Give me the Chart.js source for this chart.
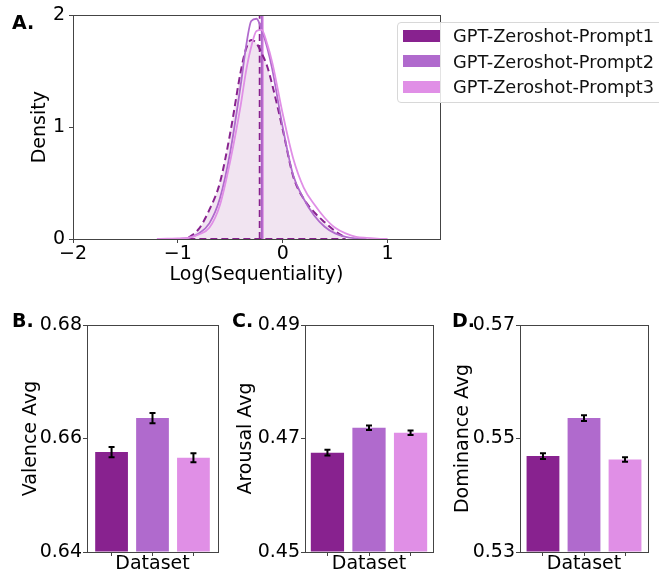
<!DOCTYPE html>
<html>
<head>
<meta charset="utf-8">
<script src="https://cdn.jsdelivr.net/npm/chart.js@4.4.0/dist/chart.umd.min.js"></script>
<style>
  body { margin: 0; background: #fff; width: 659px; height: 573px; overflow: hidden; position: relative;
         font-family: "DejaVu Sans", sans-serif; }
  canvas { position: absolute; }
  .tag { position: absolute; font-weight: bold; font-size: 19px; line-height: 19px; color: #000; }
  #legend { position: absolute; left: 397px; top: 22px; width: 300px; padding-bottom: 2.5px;
            border: 1px solid #d8d8d8; border-radius: 4px; background: rgba(255,255,255,0.85); }
  #legend .item { display: flex; align-items: center; height: 25.5px; font-size: 17.8px; color: #111; white-space: nowrap; }
  #legend .sw { display: inline-block; width: 37px; height: 12px; margin-left: 5px; margin-right: 13px; }
</style>
</head>
<body>
<canvas id="kde"   width="460" height="295" style="left:0;top:0"></canvas>
<canvas id="val"   width="220" height="290" style="left:0;top:295px"></canvas>
<canvas id="aro"   width="220" height="290" style="left:220px;top:295px"></canvas>
<canvas id="dom"   width="219" height="290" style="left:440px;top:295px"></canvas>
<div class="tag" style="left:12px;top:13px">A.</div>
<div class="tag" style="left:12px;top:311px">B.</div>
<div class="tag" style="left:232px;top:311px">C.</div>
<div class="tag" style="left:452px;top:311px">D.</div>
<div id="legend"></div>

<script>
// ── DATA ──
const names  = ['GPT-Zeroshot-Prompt1', 'GPT-Zeroshot-Prompt2', 'GPT-Zeroshot-Prompt3'];
const colors = ['#88228f', '#b06acd', '#e08fe6'];

// panel A: density of log(sequentiality)
const kdeX   = [-1.2, -1.1, -1.0, -0.9, -0.8, -0.7, -0.6, -0.5, -0.4, -0.35, -0.3, -0.25, -0.2, -0.15, -0.1, 0.0, 0.1, 0.2, 0.3, 0.4, 0.5, 0.6, 0.7, 0.8, 0.9, 1.0];
const densP1 = [null, null, null, 0.01, 0.09, 0.26, 0.5, 0.95, 1.5, 1.7, 1.78, 1.75, 1.66, 1.55, 1.38, 0.98, 0.56, 0.36, 0.24, 0.15, 0.07, 0.01, null, null, null, null];
const densP2 = [null, null, 0, 0.01, 0.05, 0.14, 0.36, 0.78, 1.38, 1.72, 1.95, 1.97, 1.87, 1.72, 1.52, 1.0, 0.57, 0.36, 0.21, 0.11, 0.05, 0.02, 0.005, 0, null, null];
const densP3 = [0, 0.003, 0.005, 0.01, 0.04, 0.1, 0.3, 0.7, 1.2, 1.5, 1.72, 1.86, 1.87, 1.75, 1.58, 1.12, 0.72, 0.46, 0.31, 0.19, 0.1, 0.05, 0.02, 0.01, 0.004, 0];
const means  = [-0.22, -0.2, -0.19];
const kdeXTicks = [-2, -1, 0, 1];
const kdeYTicks = [0, 1, 2];

// panels B-D: averages with error bars
const valence      = [0.6576, 0.6636, 0.6566];
const valenceErr   = [0.0009, 0.0009, 0.0008];
const valenceTicks = [0.64, 0.66, 0.68];
const arousal      = [0.4675, 0.4719, 0.4710];
const arousalErr   = [0.0005, 0.0004, 0.0004];
const arousalTicks = [0.45, 0.47, 0.49];
const dominance    = [0.5469, 0.5536, 0.5463];
const dominanceErr = [0.0005, 0.0005, 0.0004];
const dominanceTicks = [0.53, 0.55, 0.57];

Chart.defaults.font.family = 'DejaVu Sans';
Chart.defaults.font.size = 19;
Chart.defaults.color = '#000';

const AXIS = '#444';

// box around the plot area (matplotlib spines)
const framePlugin = {
  id: 'frame',
  afterDatasetsDraw(chart) {
    const { ctx, chartArea: a } = chart;
    ctx.save();
    ctx.strokeStyle = AXIS;
    ctx.lineWidth = 1;
    ctx.strokeRect(Math.round(a.left) + 0.5, Math.round(a.top) + 0.5,
                   Math.round(a.right - a.left), Math.round(a.bottom - a.top));
    ctx.restore();
  }
};

// black error bars with caps
const errPlugin = {
  id: 'errbars',
  afterDatasetsDraw(chart, args, opts) {
    const { ctx, scales: { y } } = chart;
    const meta = chart.getDatasetMeta(0);
    const vals = chart.data.datasets[0].data;
    ctx.save();
    ctx.strokeStyle = '#000';
    ctx.lineWidth = 2;
    meta.data.forEach((bar, i) => {
      const v = vals[i].y, e = opts.err[i];
      const top = y.getPixelForValue(v + e), bot = y.getPixelForValue(v - e);
      ctx.beginPath();
      ctx.moveTo(bar.x, top); ctx.lineTo(bar.x, bot);
      ctx.moveTo(bar.x - 3, top); ctx.lineTo(bar.x + 3, top);
      ctx.moveTo(bar.x - 3, bot); ctx.lineTo(bar.x + 3, bot);
      ctx.stroke();
    });
    ctx.restore();
  }
};

const minus = v => (v < 0 ? '\u2212' + Math.abs(v) : String(v));
const pts = ys => kdeX.map((x, i) => ({ x, y: ys[i] })).filter(p => p.y !== null);
const fixTicks = list => scale => { scale.ticks = list.map(value => ({ value })); };

// ── PANEL A ──
(function () {
  const p1 = pts(densP1);
  const yTop = kdeYTicks[kdeYTicks.length - 1];
  const line = (data, color, dashed, width) => ({
    data, borderColor: color, borderWidth: width, borderDash: dashed ? [7, 4] : [],
    pointRadius: 0, fill: false, cubicInterpolationMode: 'monotone'
  });

  const datasets = [
    line(pts(densP3), colors[2], false, 1.8),
    line(pts(densP2), colors[1], false, 1.8),
    Object.assign(line(p1, colors[0], true, 2), { fill: 'origin', backgroundColor: 'rgba(136,34,143,0.12)' }),
    line([{ x: p1[0].x, y: 0 }, { x: p1[p1.length - 1].x, y: 0 }], colors[0], true, 2),
  ];
  means.forEach((m, i) => datasets.push(line([{ x: m, y: 0 }, { x: m, y: yTop }], colors[i], i === 0, 1.8)));

  new Chart(document.getElementById('kde'), {
    type: 'line',
    data: { datasets },
    options: {
      responsive: false, animation: false, devicePixelRatio: 1,
      layout: { padding: { top: 15, right: 20, left: 0, bottom: 0 } },
      plugins: { legend: { display: false }, tooltip: { enabled: false } },
      scales: {
        x: {
          type: 'linear', min: -2, max: 1.5,
          afterBuildTicks: fixTicks(kdeXTicks),
          afterFit: s => { s.height = 56; },
          border: { display: false },
          grid: { drawOnChartArea: false, color: AXIS, tickLength: 4 },
          ticks: { callback: minus, padding: 0, maxRotation: 0 },
          title: { display: true, text: 'Log(Sequentiality)', padding: { top: 0, bottom: 8.3 } }
        },
        y: {
          min: 0, max: 2,
          afterBuildTicks: fixTicks(kdeYTicks),
          afterFit: s => { s.width = 73; },
          border: { display: false },
          grid: { drawOnChartArea: false, color: AXIS, tickLength: 4 },
          ticks: { padding: 4 },
          title: { display: true, text: 'Density', padding: { top: 28.9, bottom: 0 } }
        }
      }
    },
    plugins: [framePlugin]
  });
})();

// ── PANELS B-D ──
function barPanel(id, values, errs, ticks, label, box) {
  new Chart(document.getElementById(id), {
    type: 'bar',
    data: {
      datasets: [{
        data: values.map((y, x) => ({ x, y })),
        backgroundColor: colors,
        base: ticks[0],
        barPercentage: 0.8, categoryPercentage: 1
      }]
    },
    options: {
      responsive: false, animation: false, devicePixelRatio: 1,
      layout: { padding: { top: 30, right: box.right, left: 0, bottom: 0 } },
      plugins: { legend: { display: false }, tooltip: { enabled: false }, errbars: { err: errs } },
      scales: {
        x: {
          type: 'linear', offset: false, min: box.xmin, max: box.xmax,
          afterBuildTicks: fixTicks(values.map((v, i) => i)),
          afterFit: s => { s.height = 33; },
          border: { display: false },
          grid: { offset: false, drawOnChartArea: false, color: AXIS, tickLength: 4 },
          ticks: { callback: () => '' },
          title: { display: true, text: 'Dataset', padding: { top: 0, bottom: 9.3 } }
        },
        y: {
          min: ticks[0], max: ticks[ticks.length - 1],
          afterBuildTicks: fixTicks(ticks),
          afterFit: s => { s.width = box.left; },
          border: { display: false },
          grid: { drawOnChartArea: false, color: AXIS, tickLength: 4 },
          ticks: { padding: 1, callback: v => v.toFixed(2) },
          title: { display: true, text: label, padding: { top: box.title, bottom: 0 } }
        }
      }
    },
    plugins: [framePlugin, errPlugin]
  });
}

barPanel('val', valence,   valenceErr,   valenceTicks,   'Valence Avg',   { left: 87, right: 2,  xmin: -0.6,  xmax: 2.6,  title: 19.7 });
barPanel('aro', arousal,   arousalErr,   arousalTicks,   'Arousal Avg',   { left: 85, right: 7,  xmin: -0.54, xmax: 2.54, title: 14.7 });
barPanel('dom', dominance, dominanceErr, dominanceTicks, 'Dominance Avg', { left: 80, right: 11, xmin: -0.56, xmax: 2.56, title: 11.4 });

// ── LEGEND ──
document.getElementById('legend').innerHTML = names.map((n, i) =>
  `<div class="item"><span class="sw" style="background:${colors[i]}"></span>${n}</div>`).join('');
</script>
</body>
</html>
